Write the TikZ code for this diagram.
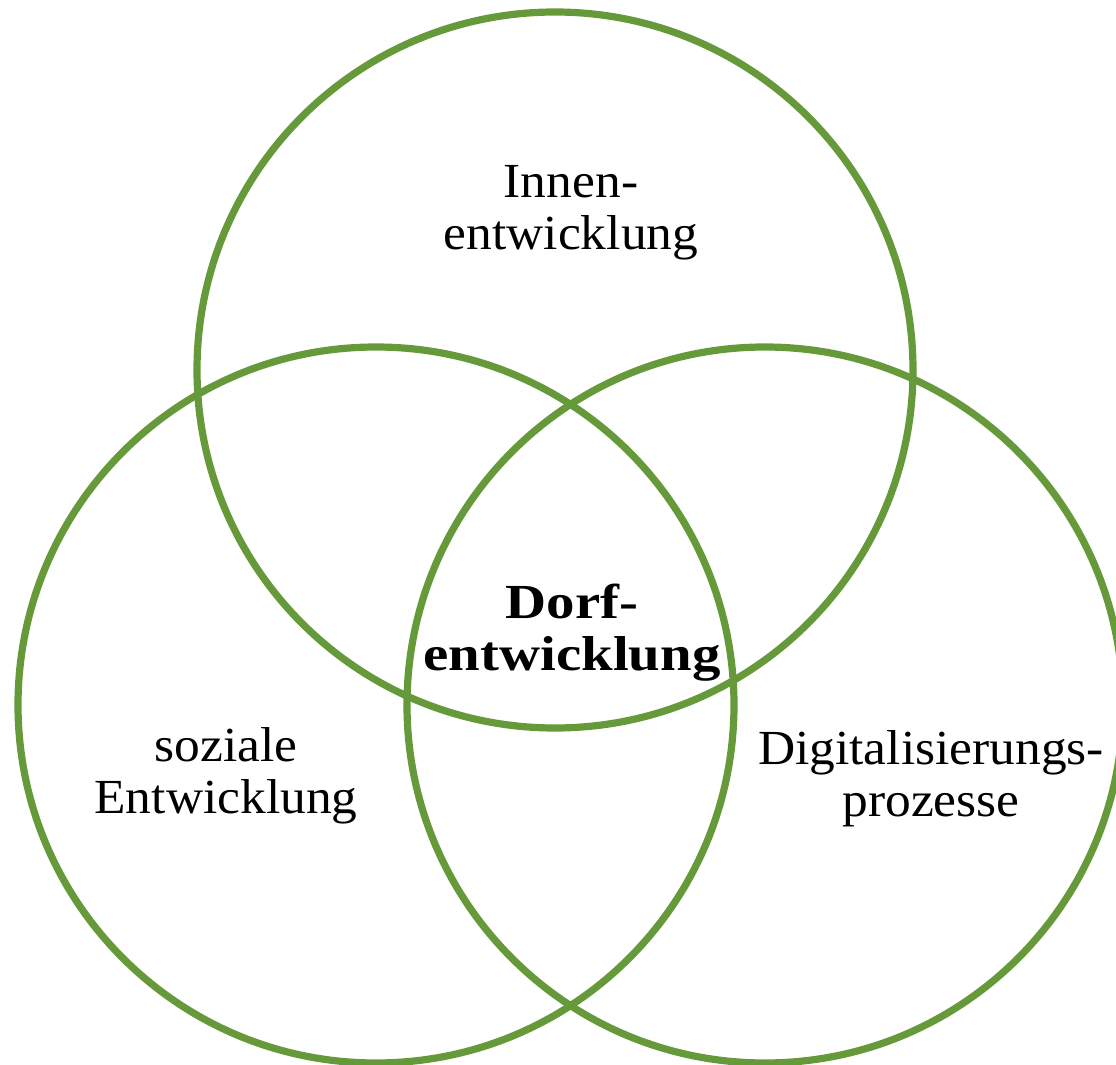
\documentclass[tikz,border=0pt]{standalone}
\usepackage{fontspec}
\setmainfont{Liberation Serif}[FakeStretch=1.05,BoldFeatures={FakeStretch=1.16}]
\usetikzlibrary{positioning}
\definecolor{leafgreen}{RGB}{102,153,57}
\tikzstyle{ring}=[circle,draw=leafgreen,line width=3.6pt,minimum size=358pt,inner sep=0pt]
\tikzstyle{term}=[align=center,inner sep=0pt,font=\fontsize{24.5}{26}\selectfont]

\begin{document}
\begin{tikzpicture}[x=0.5pt,y=-0.5pt]
    \useasboundingbox (0,0) rectangle (1116,1065);

    % the three rings
    \node[ring] (inner)   at (555,370) {};
    \node[ring] (social)  at (376,705) {};
    \node[ring] (digital) at (765,705) {};

    % their names
    \node[term] (innerlbl)   at (571,213) {Innen-\\entwicklung};
    \node[term] (sociallbl)  at (226,776) {soziale\\Entwicklung};
    \node[term] (digitallbl) at (931,779) {Digitalisierungs-\\prozesse};
    \node[term,font=\fontsize{24.5}{26}\selectfont\bfseries] (village) at (572,633) {Dorf-\\entwicklung};

\end{tikzpicture}
\end{document}
